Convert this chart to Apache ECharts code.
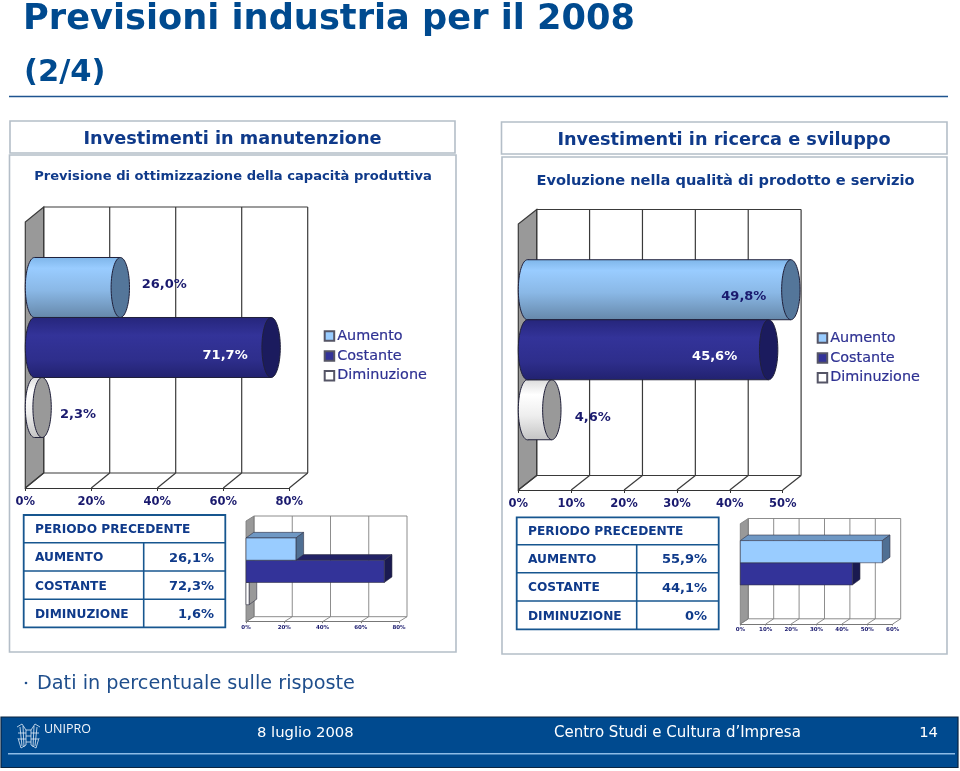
<!DOCTYPE html>
<html><head><meta charset="utf-8">
<style>html,body{margin:0;padding:0;background:#fff}#c{width:960px;height:771px}</style>
<script src="https://cdn.jsdelivr.net/npm/echarts@6/dist/echarts.min.js"></script>
</head><body><div id="c"></div>
<script>
const categories = ['Aumento','Costante','Diminuzione'];
const manutenzioneAttuale = [26.0,71.7,2.3];
const ricercaAttuale = [49.8,45.6,4.6];
const manutenzionePrecedente = [26.1,72.3,1.6];
const ricercaPrecedente = [55.9,44.1,0];
const ticksManutenzione = [0,20,40,60,80];
const ticksRicerca = [0,10,20,30,40,50];
const ticksRicercaPrecedente = [0,10,20,30,40,50,60];
const tableTitle = 'PERIODO PRECEDENTE';

const F = '"DejaVu Sans", Verdana, sans-serif';
const BLUE = '#004a8f', NAVY = '#0f3a8a', PANEL = '#b4bec8', INK = '#1a1a6e';
const fmt = v => v.toFixed(1).replace('.',',') + '%';
const fmtT = v => v === 0 ? '0%' : fmt(v);
const SHIFT = 1.3;

const cyl = [
 {stops:[[0,'#7fb6ea'],[.18,'#99ccff'],[.55,'#8ab8e6'],[1,'#6688aa']],cap:'#54769a',text:INK},
 {stops:[[0,'#26267c'],[.3,'#333399'],[.7,'#2e2e8c'],[1,'#222270']],cap:'#1b1b5e',text:'#ffffff'},
 {stops:[[0,'#dcdcdc'],[.25,'#ffffff'],[.6,'#eeeeee'],[1,'#c4c4c4']],cap:'#999999',text:INK}
];
const box = [
 {front:'#99ccff',top:'#6f98c4',side:'#4f6f93'},
 {front:'#333399',top:'#222266',side:'#1a1a50'},
 {front:'#ffffff',top:'#999999',side:'#999999'}
];
const legendColors = ['#99ccff','#333399','#ffffff'];
const grad = s => ({type:'linear',x:0,y:0,x2:0,y2:1,colorStops:s.map(a=>({offset:a[0],color:a[1]}))});

const large = [
 {vals:manutenzioneAttuale,ticks:ticksManutenzione,max:80,left:25.3,width:264,top:222,height:266,dx:18.4,dy:-15,frac:.2256,
  lab:[[44,-4.5],[-46,7],[36,6]]},
 {vals:ricercaAttuale,ticks:ticksRicerca,max:50,left:518.3,width:264.4,top:224,height:266,dx:18.4,dy:-14.5,frac:.2256,
  lab:[[-47,5.5],[-54,6],[41,7]]}
];
const small = [
 {vals:manutenzionePrecedente,ticks:ticksManutenzione,max:80,left:246,width:153,top:521,height:100.7,dx:8,dy:-5,frac:.221},
 {vals:ricercaPrecedente,ticks:ticksRicercaPrecedente,max:60,left:740.3,width:152.4,top:523.7,height:100.3,dx:8,dy:-5.2,frac:.221}
];
const charts = large.concat(small);

function frameItem(cfg, stroke, lw){
  return function(params, api){
    const cs = params.coordSys, v = api.value(0);
    const x = api.coord([v,0])[0], xMax = api.coord([cfg.max,0])[0];
    const t = cs.y, b = cs.y+cs.height, dx = cfg.dx, dy = cfg.dy;
    const st = {stroke, lineWidth:lw, fill:null};
    const kids = [
      {type:'line',shape:{x1:x,y1:b,x2:x+dx,y2:b+dy},style:st},
      {type:'line',shape:{x1:x+dx,y1:b+dy,x2:x+dx,y2:t+dy},style:st}
    ];
    if(v===0){
      kids.unshift({type:'polygon',shape:{points:[[x,b],[x,t],[x+dx,t+dy],[x+dx,b+dy]]},style:{fill:'#999999',stroke,lineWidth:lw}});
      kids.push({type:'line',shape:{x1:x+dx,y1:t+dy,x2:xMax+dx,y2:t+dy},style:st});
      kids.push({type:'line',shape:{x1:x+dx,y1:b+dy,x2:xMax+dx,y2:b+dy},style:st});
    }
    return {type:'group',children:kids};
  };
}
function cylinderItem(cfg, i){
  return function(params, api){
    const cs = params.coordSys, c = cyl[i];
    const H = cs.height*cfg.frac, rx = cfg.dx/2, ry = H/2;
    const p0 = api.coord([0,0]), p1 = api.coord([api.value(0),0]);
    const x0 = p0[0]+cfg.dx/2, x1 = p1[0]+cfg.dx/2;
    const cy = cs.y+cs.height/2+cfg.dy/2+(i-1)*H;
    const edge = {stroke:'#20203a',lineWidth:1,fill:null};
    const g = grad(c.stops);
    return {type:'group',children:[
      {type:'ellipse',shape:{cx:x0,cy,rx,ry},style:{fill:g,stroke:'#20203a',lineWidth:1}},
      {type:'rect',shape:{x:x0,y:cy-ry,width:x1-x0,height:H},style:{fill:g}},
      {type:'line',shape:{x1:x0,y1:cy-ry,x2:x1,y2:cy-ry},style:edge},
      {type:'line',shape:{x1:x0,y1:cy+ry,x2:x1,y2:cy+ry},style:edge},
      {type:'ellipse',shape:{cx:x1,cy,rx,ry},style:{fill:c.cap,stroke:'#20203a',lineWidth:1}},
      {type:'text',style:{text:fmt(api.value(0)),x:x1+cfg.lab[i][0],y:cy+cfg.lab[i][1]+SHIFT,fill:c.text,
        font:'bold 13px '+F,align:'center',verticalAlign:'middle'}}
    ]};
  };
}
function boxItem(cfg, i){
  return function(params, api){
    const cs = params.coordSys, c = box[i], v = api.value(0);
    const H = cs.height*cfg.frac, dx = 7.7, dy = -5.6;
    const x0 = api.coord([0,0])[0], x1 = api.coord([v,0])[0];
    const cy = cs.y+cs.height/2+(i-1)*H, t = cy-H/2, b = cy+H/2;
    const s = v===0 ? {stroke:'#666666',lineWidth:.5} : {stroke:'#333344',lineWidth:.6};
    const kids = [
      {type:'polygon',shape:{points:[[x0,t],[x0+dx,t+dy],[x1+dx,t+dy],[x1,t]]},style:{fill:c.top,...s}}
    ];
    if(v>0){
      kids.push({type:'polygon',shape:{points:[[x1,t],[x1+dx,t+dy],[x1+dx,b+dy],[x1,b]]},style:{fill:c.side,...s}});
      kids.push({type:'rect',shape:{x:x0,y:t,width:x1-x0,height:H},style:{fill:c.front,...s}});
    }
    return {type:'group',children:kids};
  };
}

const grid=[], xAxis=[], yAxis=[], series=[];
charts.forEach((cfg,g)=>{
  const big = g<2;
  grid.push({left:cfg.left,top:cfg.top,width:cfg.width,height:cfg.height,containLabel:false});
  xAxis.push({type:'value',gridIndex:g,min:0,max:cfg.max,interval:cfg.ticks[1]-cfg.ticks[0],position:'bottom',
    splitLine:{show:false},
    axisLine:{show:true,onZero:false,lineStyle:{color:big?'#333333':'#777777',width:1}},
    axisTick:{show:true,length:big?3:1.5,lineStyle:{color:big?'#333333':'#777777'}},
    axisLabel:{color:INK,fontFamily:F,fontWeight:'bold',fontSize:big?11.5:5.5,margin:big?8.5:2.5,formatter:'{value}%',hideOverlap:false,showMinLabel:true,showMaxLabel:true}});
  yAxis.push({type:'category',gridIndex:g,data:[''],show:false});
  series.push({type:'custom',name:'griglia'+g,xAxisIndex:g,yAxisIndex:g,z:1,clip:false,silent:true,
    coordinateSystem:'cartesian2d',encode:{x:0,y:1},data:cfg.ticks.map(t=>[t,0]),
    renderItem:frameItem(cfg,big?'#3a3a3a':'#808080',big?1.2:.9)});
  [0,1,2].forEach(i=>{
    const z = big ? (i===1?4:3) : 5-i;
    series.push({type:'custom',name:categories[i],xAxisIndex:g,yAxisIndex:g,z,clip:false,
      coordinateSystem:'cartesian2d',encode:{x:0,y:1},data:[[cfg.vals[i],0]],
      itemStyle:{color:legendColors[i],borderColor:'#555566',borderWidth:.7},
      renderItem:big?cylinderItem(cfg,i):boxItem(cfg,i)});
  });
});

const T=(text,x,y,font,fill,align)=>({type:'text',silent:true,style:{text,x,y:y+SHIFT,font,fill,align:align||'left',verticalAlign:'middle'}});
const R=(x,y,w,h,stroke,lw,fill)=>({type:'rect',silent:true,shape:{x,y,width:w,height:h},style:{stroke,lineWidth:lw,fill:fill||'#fff'}});
const L=(x1,y1,x2,y2,stroke,lw)=>({type:'line',silent:true,shape:{x1,y1,x2,y2},style:{stroke,lineWidth:lw}});

function table(x,y,w,h,rows,col,vals,textX,valX){
  const c='#17568f', out=[R(x,y,w,h,c,1.8)];
  rows.forEach(r=>out.push(L(x,r,x+w,r,c,1.6)));
  out.push(L(col,rows[0],col,y+h,c,1.6));
  const f='bold 12.2px '+F, fv='bold 13px '+F;
  out.push(T(tableTitle,textX,(y+rows[0])/2,f,NAVY));
  categories.forEach((cat,i)=>{
    const y0=rows[i], y1=i<2?rows[i+1]:y+h;
    out.push(T(cat.toUpperCase(),textX,(y0+y1)/2,f,NAVY));
    out.push(T(fmtT(vals[i]),valX,(y0+y1)/2,fv,NAVY,'right'));
  });
  return out;
}
const logoC='#e3edf7';
const logo=[];
[[17,727,22,724,26,730,26,745,21,748,18,738],[40,727,35,724,31,730,31,745,36,748,39,738],[20,727,22,746],[23,726,24,747],[37,727,35,746],[34,726,33,747],[26,730,31,730],[26,736,31,736],[26,742,31,742],[18,733,26,733],[31,733,39,733],[19,739,26,739],[31,739,38,739]]
 .forEach(a=>{const pts=[];for(let i=0;i<a.length;i+=2)pts.push([a[i],a[i+1]]);
   logo.push({type:'polyline',silent:true,shape:{points:pts},style:{stroke:logoC,lineWidth:.8,fill:null}});});

const graphic=[
 T('Previsioni industria per il 2008',23,19,'bold 35.2px '+F,BLUE),
 T('(2/4)',24,72,'bold 30.5px '+F,BLUE),
 L(9,96.5,948,96.5,'#1f5490',1.4),
 R(10,121,445,32,PANEL,1.6),
 R(9.5,155,446.5,497,PANEL,1.6),
 R(501.5,122,445.5,32,PANEL,1.6),
 R(502,157,445,497,PANEL,1.6),
 T('Investimenti in manutenzione',232.5,138,'bold 17.7px '+F,NAVY,'center'),
 T('Previsione di ottimizzazione della capacità produttiva',233,175.5,'bold 13.1px '+F,NAVY,'center'),
 T('Investimenti in ricerca e sviluppo',724,139,'bold 17.7px '+F,NAVY,'center'),
 T('Evoluzione nella qualità di prodotto e servizio',725.5,179.5,'bold 14.6px '+F,NAVY,'center'),
 ...table(23.7,515,201.6,112.3,[542.7,571,599.3],143.7,manutenzionePrecedente,35,214),
 ...table(516.7,517.3,202,112,[544.7,572.7,601],636.7,ricercaPrecedente,528,707),
 {type:'circle',silent:true,shape:{cx:26,cy:683,r:1.3},style:{fill:'#1f4e8c'}},
 T('Dati in percentuale sulle risposte',37,683,'19.25px '+F,'#1f4e8c'),
 R(1,717,957,50.5,'#0a2440',1.2,BLUE),
 L(8,753.7,955,753.7,'#8dbbe6',1.6),
 ...logo,
 T('UNIPRO',44,728,'12.5px "Open Sans", '+F,'#f2f6fb'),
 T('8 luglio 2008',257,731.5,'14.8px '+F,'#ffffff'),
 T('Centro Studi e Cultura d\u2019Impresa',554,731.5,'15px '+F,'#ffffff'),
 T('14',938,731.5,'14.8px '+F,'#ffffff','right')
];
const legendBase={orient:'vertical',data:categories,icon:'rect',itemWidth:9.5,itemHeight:9.5,itemGap:5.6,selectedMode:false,
  textStyle:{color:'#2e3192',fontFamily:F,fontSize:14.4,padding:[0,0,0,-2],textBorderColor:'#2e3192',textBorderWidth:.2},padding:0};
const chart=echarts.init(document.getElementById('c'),null,{renderer:'canvas'});
chart.setOption({animation:false,backgroundColor:'#ffffff',grid,xAxis,yAxis,series,graphic,
  legend:[Object.assign({left:323.7,top:329},legendBase),Object.assign({left:816.7,top:331},legendBase)]});
</script></body></html>
